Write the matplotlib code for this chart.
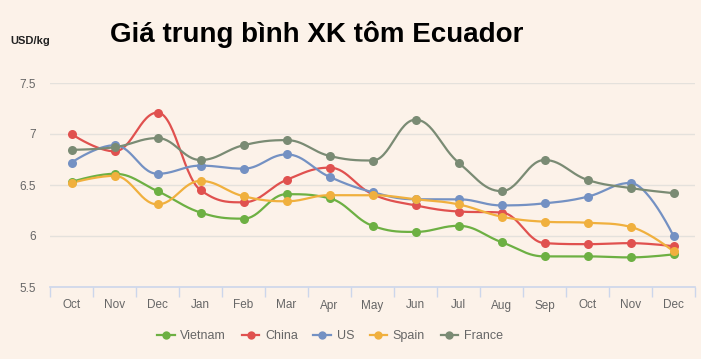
import numpy as np
import matplotlib.pyplot as plt
from matplotlib.lines import Line2D

months = ['Oct', 'Nov', 'Dec', 'Jan', 'Feb', 'Mar', 'Apr', 'May', 'Jun', 'Jul',
          'Aug', 'Sep', 'Oct', 'Nov', 'Dec']

vietnam = [6.53, 6.61, 6.44, 6.23, 6.17, 6.41, 6.37, 6.10, 6.04, 6.10, 5.94, 5.80, 5.80, 5.79, 5.82]
china = [7.00, 6.83, 7.21, 6.45, 6.33, 6.55, 6.67, 6.41, 6.30, 6.24, 6.23, 5.93, 5.92, 5.93, 5.90]
us = [6.72, 6.89, 6.61, 6.69, 6.66, 6.80, 6.58, 6.43, 6.36, 6.36, 6.30, 6.32, 6.385, 6.52, 6.00]
spain = [6.52, 6.59, 6.31, 6.54, 6.39, 6.34, 6.40, 6.40, 6.36, 6.31, 6.19, 6.14, 6.13, 6.09, 5.85]
france = [6.845, 6.87, 6.96, 6.745, 6.89, 6.94, 6.785, 6.74, 7.14, 6.72, 6.44, 6.745, 6.55, 6.47, 6.42]

series = [('Vietnam', vietnam, '#6db043'),
          ('China', china, '#e0514f'),
          ('US', us, '#7491c3'),
          ('Spain', spain, '#f0b03e'),
          ('France', france, '#7a8b74')]

bg = '#fcf2e9'


# spline like the web chart: bezier segments, flat tangents at local extremes
def spline(xs, ys, n=30):
    xs = np.asarray(xs, float)
    ys = np.asarray(ys, float)
    k = len(xs)
    lc = np.zeros((k, 2))
    rc = np.zeros((k, 2))
    lc[0] = rc[0] = (xs[0], ys[0])
    lc[-1] = rc[-1] = (xs[-1], ys[-1])
    for i in range(1, k - 1):
        x, y = xs[i], ys[i]
        px, py = xs[i - 1], ys[i - 1]
        nx, ny = xs[i + 1], ys[i + 1]
        lx, ly = (1.5 * x + px) / 2.5, (1.5 * y + py) / 2.5
        rx, ry = (1.5 * x + nx) / 2.5, (1.5 * y + ny) / 2.5
        corr = (ry - ly) * (rx - x) / (rx - lx) + y - ry
        ly += corr
        ry += corr
        if ly > py and ly > y:
            ly = max(py, y)
            ry = 2 * y - ly
        elif ly < py and ly < y:
            ly = min(py, y)
            ry = 2 * y - ly
        if ry > ny and ry > y:
            ry = max(ny, y)
            ly = 2 * y - ry
        elif ry < ny and ry < y:
            ry = min(ny, y)
            ly = 2 * y - ry
        lc[i] = (lx, ly)
        rc[i] = (rx, ry)
    t = np.linspace(0, 1, n)[:, None]
    pts = []
    for i in range(k - 1):
        p0 = np.array([xs[i], ys[i]])
        p3 = np.array([xs[i + 1], ys[i + 1]])
        p1, p2 = rc[i], lc[i + 1]
        seg = ((1 - t) ** 3) * p0 + 3 * ((1 - t) ** 2) * t * p1 + 3 * (1 - t) * t ** 2 * p2 + t ** 3 * p3
        pts.append(seg if i == 0 else seg[1:])
    pts = np.vstack(pts)
    return pts[:, 0], pts[:, 1]


plt.rcParams['font.family'] = ['Liberation Sans', 'DejaVu Sans']

fig = plt.figure(figsize=(7.01, 3.59), dpi=100, facecolor=bg)
ax = fig.add_axes([50 / 701, 72 / 359, 645 / 701, 204 / 359])
ax.set_facecolor(bg)

x = np.arange(len(months))
for name, vals, col in series:
    sx, sy = spline(x, vals)
    ax.plot(sx, sy, color=col, lw=1.6, zorder=3, solid_capstyle='round')
    ax.plot(x, vals, 'o', color=col, ms=6.5, mec='none', zorder=4)

ax.set_xlim(-0.5, len(months) - 0.5)
ax.set_ylim(5.5, 7.5)
ax.set_yticks([5.5, 6, 6.5, 7, 7.5])
ax.set_yticklabels(['5.5', '6', '6.5', '7', '7.5'])
ax.set_xticks(x)
ax.set_xticklabels(months)
ax.set_xticks(np.arange(-0.5, len(months), 1), minor=True)
ax.tick_params(axis='x', which='major', length=0, pad=9, labelsize=8.5, labelcolor='#666666')
ax.tick_params(axis='x', which='minor', length=7, width=1, color='#ccd6eb')
ax.tick_params(axis='y', length=0, pad=10, labelsize=8.5, labelcolor='#666666')
ax.grid(axis='y', color='#e4e1dc', lw=1)
ax.set_axisbelow(True)
for s in ['top', 'right', 'left']:
    ax.spines[s].set_visible(False)
ax.spines['bottom'].set_color('#ccd6eb')
ax.spines['bottom'].set_linewidth(1.2)

fig.text(317 / 701, 1 - 34 / 359, 'Giá trung bình XK tôm Ecuador', ha='center', va='center',
         fontsize=20, fontweight='bold', color='black')
fig.text(10 / 701, 1 - 41 / 359, 'USD/kg', ha='left', va='center', fontsize=8,
         fontweight='bold', color='#222222')

handles = [Line2D([0], [0], color=col, lw=1.6, marker='o', ms=6, mec='none') for _, _, col in series]
fig.legend(handles, [n for n, _, _ in series], loc='center', bbox_to_anchor=(330 / 701, 1 - 336 / 359),
           ncol=5, frameon=False, fontsize=9, labelcolor='#666666', handlelength=1.4,
           handletextpad=0.45, columnspacing=1.25)

fig.savefig('out.png', dpi=100, facecolor=bg)
